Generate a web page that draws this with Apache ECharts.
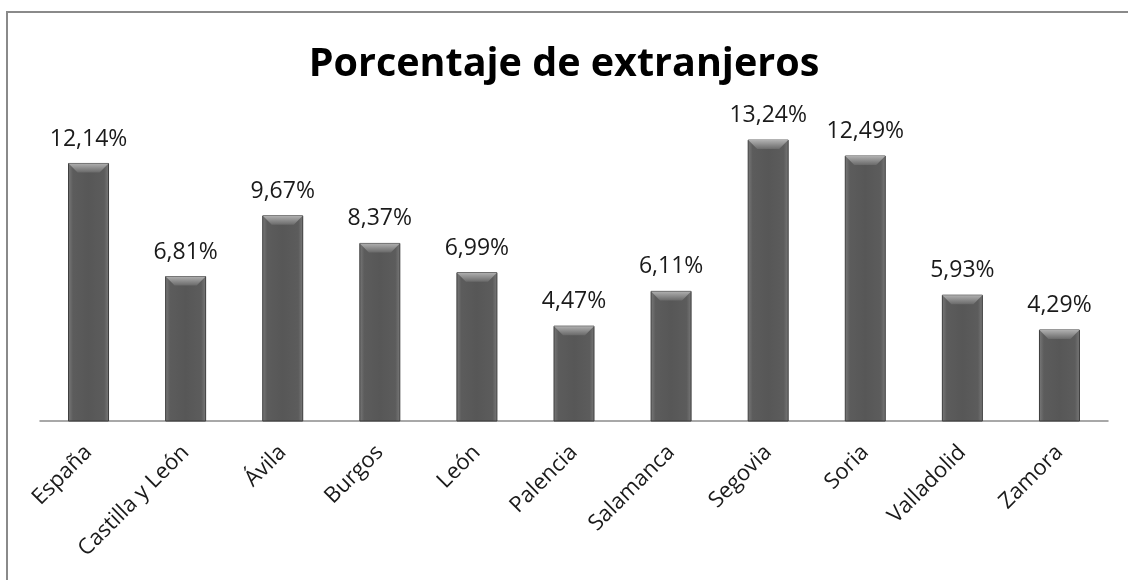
<!DOCTYPE html>
<html>
<head>
<meta charset="utf-8">
<script src="https://cdn.jsdelivr.net/npm/echarts@6/dist/echarts.min.js"></script>
<style>
html, body { margin: 0; padding: 0; background: #fff; }
#main { width: 1128px; height: 580px; }
</style>
</head>
<body>
<div id="main"></div>
<script>
// datos
var categorias = ['España', 'Castilla y León', 'Ávila', 'Burgos', 'León', 'Palencia',
    'Salamanca', 'Segovia', 'Soria', 'Valladolid', 'Zamora'];
var porcentajes = [12.14, 6.81, 9.67, 8.37, 6.99, 4.47, 6.11, 13.24, 12.49, 5.93, 4.29];

var myChart = echarts.init(document.getElementById('main'));

function fmt(v) {
    return v.toFixed(2).replace('.', ',') + '%';
}

// barra con bisel arriba
function renderBar(params, api) {
    var idx = api.value(0);
    var top = api.coord([idx, api.value(1)]);
    var base = api.coord([idx, 0]);
    var w = 40;
    var x = top[0] - w / 2;
    var y = top[1];
    var h = base[1] - top[1];
    var b = 9; // bisel
    return {
        type: 'group',
        children: [
            {
                type: 'rect',
                shape: { x: x, y: y, width: w, height: h },
                style: {
                    fill: new echarts.graphic.LinearGradient(0, 0, 1, 0, [
                        { offset: 0, color: '#7a7a7a' },
                        { offset: 0.12, color: '#5c5c5c' },
                        { offset: 0.5, color: '#575757' },
                        { offset: 0.88, color: '#5c5c5c' },
                        { offset: 1, color: '#7a7a7a' }
                    ]),
                    stroke: '#3c3c3c',
                    lineWidth: 1
                }
            },
            {
                type: 'polygon',
                shape: { points: [[x, y], [x + w, y], [x + w - b, y + b], [x + b, y + b]] },
                style: {
                    fill: new echarts.graphic.LinearGradient(0, 0, 0, 1, [
                        { offset: 0, color: '#b0b0b0' },
                        { offset: 1, color: '#6a6a6a' }
                    ])
                }
            },
            {
                type: 'text',
                style: {
                    text: fmt(api.value(1)),
                    x: top[0],
                    y: y - 13,
                    align: 'center',
                    verticalAlign: 'bottom',
                    fontSize: 23,
                    fontFamily: 'Open Sans',
                    fill: '#1a1a1a'
                }
            }
        ]
    };
}

myChart.setOption({
    animation: false,
    title: {
        text: 'Porcentaje de extranjeros',
        left: 'center',
        top: 40,
        textStyle: { fontSize: 39.5, fontWeight: 'bold', fontFamily: 'Open Sans', color: '#000' }
    },
    graphic: [{
        type: 'rect',
        shape: { x: 7, y: 12, width: 1200, height: 700 },
        style: { fill: 'none', stroke: '#8a8a8a', lineWidth: 2 },
        z: 100
    }],
    grid: { left: 40, right: 20, top: 124, bottom: 159 },
    xAxis: {
        type: 'category',
        data: categorias,
        axisLine: { lineStyle: { color: '#8c8c8c', width: 1.5 } },
        axisTick: { show: false },
        axisLabel: {
            rotate: 45,
            interval: 0,
            margin: 28,
            fontSize: 22,
            fontFamily: 'Open Sans',
            color: '#1a1a1a'
        }
    },
    yAxis: {
        type: 'value',
        min: 0,
        max: 14,
        show: false
    },
    series: [{
        type: 'custom',
        renderItem: renderBar,
        data: porcentajes.map(function (v, i) { return [i, v]; })
    }]
});
</script>
</body>
</html>
